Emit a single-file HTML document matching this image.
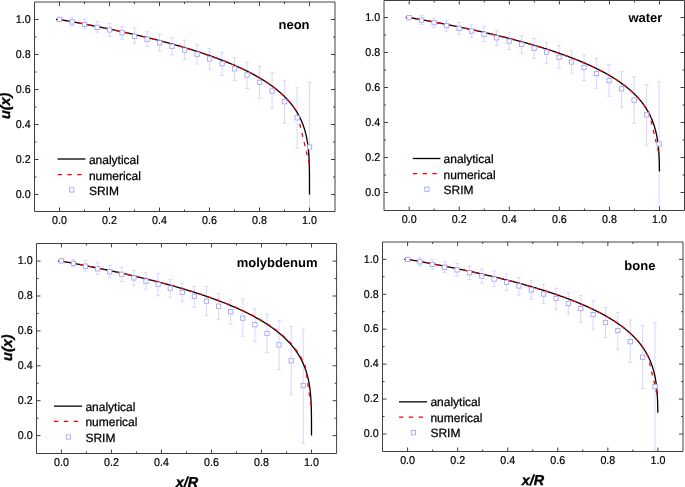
<!DOCTYPE html>
<html><head><meta charset="utf-8"><title>u(x) vs x/R</title>
<style>
html,body{margin:0;padding:0;background:#fff;}
body{width:685px;height:487px;overflow:hidden;}
svg{display:block;}
text{font-family:"Liberation Sans",Arial,sans-serif;fill:#000;text-rendering:geometricPrecision;}
.tl text{font-size:11.4px;stroke:#000;stroke-width:0.2px;}
.lg text{font-size:12px;stroke:#000;stroke-width:0.25px;}
.pl{font-size:13px;font-weight:bold;fill:#000;}
.al{font-size:14.4px;font-weight:bold;font-style:italic;fill:#000;stroke:#000;stroke-width:0.35px;}
</style></head>
<body>
<svg width="685" height="487" viewBox="0 0 685 487">
<rect width="685" height="487" fill="#fff"/>
<g>
<path d="M72.1 17.4V19.5M70.2 17.4H74M72.1 24.3V26.1M70.2 26.1H74M84.6 19.3V22M82.7 19.3H86.5M84.6 26.8V29M82.7 29H86.5M97.1 21.3V24.9M95.2 21.3H99M97.1 29.7V32.2M95.2 32.2H99M109.6 23.4V27.5M107.7 23.4H111.5M109.6 32.3V36.3M107.7 36.3H111.5M122.1 26.4V30.4M120.2 26.4H124M122.1 35.2V39.2M120.2 39.2H124M134.6 28.1V33.9M132.7 28.1H136.5M134.6 38.7V43.3M132.7 43.3H136.5M147.1 31.6V36.8M145.2 31.6H149M147.1 41.6V46.6M145.2 46.6H149M159.6 34.5V40.4M157.7 34.5H161.5M159.6 45.2V51.3M157.7 51.3H161.5M172.1 37.8V43.8M170.2 37.8H174M172.1 48.6V54.9M170.2 54.9H174M184.6 40.3V47.7M182.7 40.3H186.5M184.6 52.5V59.6M182.7 59.6H186.5M197.1 44.4V51.8M195.2 44.4H199M197.1 56.6V64.1M195.2 64.1H199M209.6 48.4V56.5M207.7 48.4H211.5M209.6 61.3V69.2M207.7 69.2H211.5M222.1 52.3V61.3M220.2 52.3H224M222.1 66.1V75.4M220.2 75.4H224M234.6 57.4V66.4M232.7 57.4H236.5M234.6 71.2V80.5M232.7 80.5H236.5M247.1 61.9V72.6M245.2 61.9H249M247.1 77.4V88.5M245.2 88.5H249M259.6 66.3V80M257.7 66.3H261.5M259.6 84.8V98.4M257.7 98.4H261.5M272.1 72.6V88.6M270.2 72.6H274M272.1 93.4V108.3M270.2 108.3H274M284.6 80.3V99.3M282.7 80.3H286.5M284.6 104.1V123.3M282.7 123.3H286.5M297.1 87.7V115.4M295.2 87.7H299M297.1 120.2V148.4M295.2 148.4H299M309.6 82.4V144.6M307.7 82.4H311.5M309.6 149.4V211M307.7 211H311.5" stroke="#d2d2ff" stroke-width="0.9" fill="none"/>
<path d="M56 19.5 L59.5 19.5 L61.37 19.83 L63.23 20.16 L65.08 20.49 L66.93 20.82 L68.76 21.16 L70.58 21.49 L72.4 21.82 L74.2 22.15 L76 22.48 L77.79 22.82 L79.56 23.15 L81.33 23.48 L83.09 23.82 L84.84 24.15 L86.58 24.48 L88.32 24.82 L90.04 25.15 L91.75 25.49 L93.46 25.82 L95.16 26.16 L96.84 26.49 L98.52 26.83 L100.19 27.16 L101.85 27.5 L103.51 27.83 L105.15 28.17 L106.78 28.51 L108.41 28.84 L110.03 29.18 L111.64 29.52 L113.24 29.85 L114.83 30.19 L116.41 30.53 L117.98 30.87 L119.55 31.2 L121.11 31.54 L122.66 31.88 L124.2 32.22 L125.73 32.56 L127.25 32.9 L128.76 33.24 L130.27 33.58 L131.77 33.92 L133.26 34.26 L134.74 34.6 L136.21 34.94 L137.68 35.28 L139.13 35.62 L140.58 35.96 L142.02 36.3 L143.45 36.65 L144.87 36.99 L146.29 37.33 L147.7 37.67 L149.1 38.02 L150.49 38.36 L151.87 38.7 L153.24 39.05 L154.61 39.39 L155.97 39.73 L157.32 40.08 L158.66 40.42 L160 40.77 L161.32 41.11 L162.64 41.46 L163.95 41.8 L165.26 42.15 L166.55 42.49 L167.84 42.84 L169.12 43.19 L170.39 43.53 L171.66 43.88 L172.91 44.23 L174.16 44.58 L175.41 44.92 L176.64 45.27 L177.87 45.62 L179.08 45.97 L180.3 46.32 L181.5 46.67 L182.7 47.02 L183.89 47.37 L185.07 47.72 L186.24 48.07 L187.41 48.42 L188.57 48.77 L189.72 49.12 L190.86 49.47 L192 49.82 L193.13 50.17 L194.25 50.52 L195.37 50.88 L196.47 51.23 L197.58 51.58 L198.67 51.94 L199.76 52.29 L200.84 52.64 L201.91 53 L202.97 53.35 L204.03 53.71 L205.08 54.06 L206.13 54.42 L207.16 54.77 L208.19 55.13 L209.22 55.48 L210.23 55.84 L211.24 56.2 L212.25 56.55 L213.24 56.91 L214.23 57.27 L215.21 57.63 L216.19 57.98 L217.16 58.34 L218.12 58.7 L219.07 59.06 L220.02 59.42 L220.96 59.78 L221.9 60.14 L222.83 60.5 L223.75 60.86 L224.67 61.22 L225.57 61.58 L226.48 61.95 L227.37 62.31 L228.26 62.67 L229.15 63.03 L230.02 63.39 L230.89 63.76 L231.76 64.12 L232.61 64.49 L233.46 64.85 L234.31 65.21 L235.15 65.58 L235.98 65.94 L236.81 66.31 L237.63 66.68 L238.44 67.04 L239.25 67.41 L240.05 67.78 L240.84 68.14 L241.63 68.51 L242.42 68.88 L243.19 69.25 L243.96 69.62 L244.73 69.98 L245.49 70.35 L246.24 70.72 L246.99 71.09 L247.73 71.46 L248.46 71.83 L249.19 72.21 L249.92 72.58 L250.64 72.95 L251.35 73.32 L252.05 73.69 L252.75 74.07 L253.45 74.44 L254.14 74.81 L254.82 75.19 L255.5 75.56 L256.17 75.94 L256.84 76.31 L257.5 76.69 L258.16 77.06 L258.81 77.44 L259.45 77.82 L260.09 78.19 L260.72 78.57 L261.35 78.95 L261.97 79.33 L262.59 79.71 L263.2 80.09 L263.81 80.47 L264.41 80.85 L265.01 81.23 L265.6 81.61 L266.18 81.99 L266.76 82.37 L267.34 82.75 L267.91 83.13 L268.47 83.52 L269.03 83.9 L269.58 84.28 L270.13 84.67 L270.68 85.05 L271.22 85.44 L271.75 85.82 L272.28 86.21 L272.8 86.6 L273.32 86.98 L273.84 87.37 L274.35 87.76 L274.85 88.15 L275.35 88.53 L275.85 88.92 L276.34 89.31 L276.82 89.7 L277.3 90.09 L277.78 90.48 L278.25 90.88 L278.72 91.27 L279.18 91.66 L279.64 92.05 L280.09 92.45 L280.54 92.84 L280.98 93.24 L281.42 93.63 L281.85 94.03 L282.28 94.42 L282.71 94.82 L283.13 95.21 L283.54 95.61 L283.96 96.01 L284.36 96.41 L284.77 96.81 L285.17 97.21 L285.56 97.61 L285.95 98.01 L286.34 98.41 L286.72 98.81 L287.1 99.21 L287.47 99.61 L287.84 100.02 L288.2 100.42 L288.56 100.83 L288.92 101.23 L289.27 101.64 L289.62 102.04 L289.97 102.45 L290.31 102.86 L290.65 103.26 L290.98 103.67 L291.31 104.08 L291.63 104.49 L291.95 104.9 L292.27 105.31 L292.58 105.72 L292.89 106.14 L293.2 106.55 L293.5 106.96 L293.8 107.38 L294.09 107.79 L294.38 108.21 L294.67 108.62 L294.95 109.04 L295.23 109.46 L295.51 109.87 L295.78 110.29 L296.05 110.71 L296.32 111.13 L296.58 111.55 L296.84 111.97 L297.09 112.39 L297.34 112.82 L297.59 113.24 L297.84 113.66 L298.08 114.09 L298.32 114.51 L298.55 114.94 L298.78 115.37 L299.01 115.8 L299.23 116.22 L299.46 116.65 L299.67 117.08 L299.89 117.51 L300.1 117.95 L300.31 118.38 L300.52 118.81 L300.72 119.24 L300.92 119.68 L301.11 120.11 L301.31 120.55 L301.5 120.99 L301.69 121.43 L301.87 121.87 L302.05 122.3 L302.23 122.75 L302.41 123.19 L302.58 123.63 L302.75 124.07 L302.92 124.52 L303.08 124.96 L303.24 125.41 L303.4 125.85 L303.56 126.3 L303.71 126.75 L303.86 127.2 L304.01 127.65 L304.16 128.1 L304.3 128.56 L304.44 129.01 L304.58 129.46 L304.71 129.92 L304.85 130.38 L304.98 130.84 L305.11 131.29 L305.23 131.75 L305.35 132.22 L305.48 132.68 L305.59 133.14 L305.71 133.61 L305.82 134.07 L305.93 134.54 L306.04 135.01 L306.15 135.47 L306.26 135.94 L306.36 136.42 L306.46 136.89 L306.56 137.36 L306.65 137.84 L306.75 138.32 L306.84 138.79 L306.93 139.27 L307.02 139.75 L307.1 140.23 L307.18 140.72 L307.27 141.2 L307.35 141.69 L307.42 142.18 L307.5 142.67 L307.57 143.16 L307.65 143.65 L307.72 144.14 L307.79 144.64 L307.85 145.13 L307.92 145.63 L307.98 146.13 L308.04 146.63 L308.1 147.14 L308.16 147.64 L308.22 148.15 L308.27 148.66 L308.33 149.17 L308.38 149.68 L308.43 150.2 L308.48 150.71 L308.52 151.23 L308.57 151.75 L308.61 152.27 L308.66 152.8 L308.7 153.32 L308.74 153.85 L308.78 154.38 L308.81 154.92 L308.85 155.45 L308.88 155.99 L308.92 156.53 L308.95 157.07 L308.98 157.62 L309.01 158.17 L309.04 158.72 L309.07 159.27 L309.09 159.83 L309.12 160.39 L309.14 160.95 L309.17 161.51 L309.19 162.08 L309.21 162.65 L309.23 163.23 L309.25 163.81 L309.27 164.39 L309.29 164.97 L309.3 165.56 L309.32 166.16 L309.33 166.75 L309.35 167.36 L309.36 167.96 L309.37 168.57 L309.38 169.19 L309.39 169.81 L309.4 170.43 L309.41 171.06 L309.42 171.7 L309.43 172.34 L309.44 172.99 L309.45 173.64 L309.45 174.3 L309.46 174.97 L309.46 175.64 L309.47 176.33 L309.47 177.02 L309.48 177.72 L309.48 178.43 L309.48 179.15 L309.49 179.88 L309.49 180.62 L309.49 181.38 L309.49 182.15 L309.49 182.93 L309.5 183.74 L309.5 184.56 L309.5 185.41 L309.5 186.28 L309.5 187.19 L309.5 188.13 L309.5 189.12 L309.5 190.17 L309.5 191.31 L309.5 192.61 L309.5 194.5" stroke="#000" stroke-width="1.3" fill="none" stroke-linejoin="round"/>
<path d="M59.5 19.5 L60.75 19.72 L62 19.94 L63.25 20.17 L64.5 20.39 L65.75 20.61 L67 20.84 L68.25 21.06 L69.5 21.29 L70.75 21.52 L72 21.75 L73.25 21.98 L74.5 22.21 L75.75 22.44 L77 22.67 L78.25 22.9 L79.5 23.14 L80.75 23.37 L82 23.61 L83.25 23.85 L84.5 24.09 L85.75 24.32 L87 24.56 L88.25 24.81 L89.5 25.05 L90.75 25.29 L92 25.53 L93.25 25.78 L94.5 26.03 L95.75 26.27 L97 26.52 L98.25 26.77 L99.5 27.02 L100.75 27.27 L102 27.53 L103.25 27.78 L104.5 28.04 L105.75 28.29 L107 28.55 L108.25 28.81 L109.5 29.07 L110.75 29.33 L112 29.59 L113.25 29.86 L114.5 30.12 L115.75 30.39 L117 30.65 L118.25 30.92 L119.5 31.19 L120.75 31.47 L122 31.74 L123.25 32.01 L124.5 32.29 L125.75 32.56 L127 32.84 L128.25 33.12 L129.5 33.4 L130.75 33.69 L132 33.97 L133.25 34.26 L134.5 34.54 L135.75 34.83 L137 35.12 L138.25 35.41 L139.5 35.71 L140.75 36 L142 36.3 L143.25 36.6 L144.5 36.9 L145.75 37.2 L147 37.5 L148.25 37.81 L149.5 38.11 L150.75 38.42 L152 38.73 L153.25 39.05 L154.5 39.36 L155.75 39.68 L157 40 L158.25 40.32 L159.5 40.64 L160.75 40.96 L162 41.29 L163.25 41.62 L164.5 41.95 L165.75 42.28 L167 42.61 L168.25 42.95 L169.5 43.29 L170.75 43.63 L172 43.97 L173.25 44.32 L174.5 44.67 L175.75 45.02 L177 45.37 L178.25 45.73 L179.5 46.09 L180.75 46.45 L182 46.81 L183.25 47.18 L184.5 47.55 L185.75 47.92 L187 48.29 L188.25 48.67 L189.5 49.05 L190.75 49.43 L192 49.82 L193.25 50.21 L194.5 50.6 L195.75 51 L197 51.4 L198.25 51.8 L199.5 52.21 L200.75 52.61 L202 53.03 L203.25 53.44 L204.5 53.86 L205.75 54.29 L207 54.72 L208.25 55.15 L209.5 55.58 L210.75 56.02 L212 56.47 L213.25 56.91 L214.5 57.37 L215.75 57.82 L217 58.29 L218.25 58.75 L219.5 59.22 L220.75 59.7 L222 60.18 L223.25 60.67 L224.5 61.16 L225.75 61.65 L227 62.16 L228.25 62.66 L229.5 63.18 L230.75 63.7 L232 64.22 L233.25 64.76 L234.5 65.3 L235.75 65.84 L237 66.4 L238.25 66.96 L239.5 67.52 L240.75 68.1 L242 68.68 L243.25 69.27 L244.5 69.87 L245.75 70.48 L247 71.1 L248.25 71.73 L249.5 72.36 L250.75 73.01 L252 73.66 L253.25 74.33 L254.5 75.01 L255.75 75.7 L257 76.4 L258.25 77.12 L259.5 77.85 L260.75 78.59 L262 79.34 L263.25 80.12 L264.5 80.9 L265.75 81.71 L267 82.53 L268.25 83.37 L269.5 84.23 L270.75 85.1 L272 86 L273.25 86.93 L274.5 87.87 L275.75 88.85 L277 89.85 L278.25 90.88 L279.5 91.94 L280.75 93.03 L282 94.16 L283.25 95.33 L284.5 96.54 L285.75 97.8 L287 99.11 L288.25 100.47 L289.5 101.9 L290.75 103.39 L292 104.96 L293.25 106.62 L294.5 108.37 L295.75 110.24 L297 112.24 L309.5 164.75" stroke="#ff0000" stroke-width="1.3" fill="none" stroke-dasharray="4 5.4"/>
<g fill="#fff" stroke="#a0a0ff" stroke-width="0.85"><rect x="57.45" y="17.15" width="4.3" height="4.3"/><rect x="69.95" y="19.75" width="4.3" height="4.3"/><rect x="82.45" y="22.25" width="4.3" height="4.3"/><rect x="94.95" y="25.15" width="4.3" height="4.3"/><rect x="107.45" y="27.75" width="4.3" height="4.3"/><rect x="119.95" y="30.65" width="4.3" height="4.3"/><rect x="132.45" y="34.15" width="4.3" height="4.3"/><rect x="144.95" y="37.05" width="4.3" height="4.3"/><rect x="157.45" y="40.65" width="4.3" height="4.3"/><rect x="169.95" y="44.05" width="4.3" height="4.3"/><rect x="182.45" y="47.95" width="4.3" height="4.3"/><rect x="194.95" y="52.05" width="4.3" height="4.3"/><rect x="207.45" y="56.75" width="4.3" height="4.3"/><rect x="219.95" y="61.55" width="4.3" height="4.3"/><rect x="232.45" y="66.65" width="4.3" height="4.3"/><rect x="244.95" y="72.85" width="4.3" height="4.3"/><rect x="257.45" y="80.25" width="4.3" height="4.3"/><rect x="269.95" y="88.85" width="4.3" height="4.3"/><rect x="282.45" y="99.55" width="4.3" height="4.3"/><rect x="294.95" y="115.65" width="4.3" height="4.3"/><rect x="307.45" y="144.85" width="4.3" height="4.3"/></g>
<rect x="34.5" y="2" width="300.5" height="209.5" fill="none" stroke="#404040" stroke-width="1" stroke-linejoin="round"/>
<path d="M59.5 211.5v-4M59.5 2v4M34.5 194.5h4M335 194.5h-4M84.5 211.5v-2M84.5 2v2M34.5 177h2M335 177h-2M109.5 211.5v-4M109.5 2v4M34.5 159.5h4M335 159.5h-4M134.5 211.5v-2M134.5 2v2M34.5 142h2M335 142h-2M159.5 211.5v-4M159.5 2v4M34.5 124.5h4M335 124.5h-4M184.5 211.5v-2M184.5 2v2M34.5 107h2M335 107h-2M209.5 211.5v-4M209.5 2v4M34.5 89.5h4M335 89.5h-4M234.5 211.5v-2M234.5 2v2M34.5 72h2M335 72h-2M259.5 211.5v-4M259.5 2v4M34.5 54.5h4M335 54.5h-4M284.5 211.5v-2M284.5 2v2M34.5 37h2M335 37h-2M309.5 211.5v-4M309.5 2v4M34.5 19.5h4M335 19.5h-4" stroke="#404040" stroke-width="1" fill="none"/>
<g class="tl"><text transform="translate(59.5 224.4) scale(0.94 1)" text-anchor="middle">0.0</text><text transform="translate(30.6 197.8) scale(0.94 1)" text-anchor="end">0.0</text><text transform="translate(109.5 224.4) scale(0.94 1)" text-anchor="middle">0.2</text><text transform="translate(30.6 162.8) scale(0.94 1)" text-anchor="end">0.2</text><text transform="translate(159.5 224.4) scale(0.94 1)" text-anchor="middle">0.4</text><text transform="translate(30.6 127.8) scale(0.94 1)" text-anchor="end">0.4</text><text transform="translate(209.5 224.4) scale(0.94 1)" text-anchor="middle">0.6</text><text transform="translate(30.6 92.8) scale(0.94 1)" text-anchor="end">0.6</text><text transform="translate(259.5 224.4) scale(0.94 1)" text-anchor="middle">0.8</text><text transform="translate(30.6 57.8) scale(0.94 1)" text-anchor="end">0.8</text><text transform="translate(309.5 224.4) scale(0.94 1)" text-anchor="middle">1.0</text><text transform="translate(30.6 22.8) scale(0.94 1)" text-anchor="end">1.0</text></g>
<path d="M57.6 159H85.5" stroke="#000" stroke-width="1.3"/>
<path d="M57.6 174.6H81.8" stroke="#ff0000" stroke-width="1.3" stroke-dasharray="4.4 5.4"/>
<rect x="69.65" y="187.75" width="4.3" height="4.3" fill="#fff" stroke="#a0a0ff" stroke-width="0.85"/>
<g class="lg"><text x="88.9" y="164.2">analytical</text><text x="88.9" y="179.6">numerical</text><text x="88.9" y="194.5">SRIM</text></g>
<text class="pl" x="294" y="28.8" text-anchor="middle">neon</text>
<text class="al" transform="translate(10.2 105.9) rotate(-90)" text-anchor="middle">u(x)</text>
</g>
<g>
<path d="M421.6 15.5V17.7M419.7 15.5H423.5M421.6 22.5V24.4M419.7 24.4H423.5M434.1 18.1V20.3M432.2 18.1H436M434.1 25.1V27.6M432.2 27.6H436M446.6 20.5V23.2M444.7 20.5H448.5M446.6 28V31.3M444.7 31.3H448.5M459.1 22.5V26M457.2 22.5H461M459.1 30.8V34.3M457.2 34.3H461M471.6 24.4V28.6M469.7 24.4H473.5M471.6 33.4V37.6M469.7 37.6H473.5M484.1 26.4V31.8M482.2 26.4H486M484.1 36.6V41.5M482.2 41.5H486M496.6 30.5V35.4M494.7 30.5H498.5M496.6 40.2V45.3M494.7 45.3H498.5M509.1 32.7V38.8M507.2 32.7H511M509.1 43.6V49.5M507.2 49.5H511M521.6 35.5V42M519.7 35.5H523.5M521.6 46.8V53.3M519.7 53.3H523.5M534.1 38.5V45.8M532.2 38.5H536M534.1 50.6V58.4M532.2 58.4H536M546.6 42.3V49.7M544.7 42.3H548.5M546.6 54.5V63.4M544.7 63.4H548.5M559.1 45.5V54.8M557.2 45.5H561M559.1 59.6V68.2M557.2 68.2H561M571.6 50.4V59.6M569.7 50.4H573.5M571.6 64.4V73.3M569.7 73.3H573.5M584.1 54.7V65M582.2 54.7H586M584.1 69.8V80.5M582.2 80.5H586M596.6 58.3V71.1M594.7 58.3H598.5M596.6 75.9V88.3M594.7 88.3H598.5M609.1 64.4V78.2M607.2 64.4H611M609.1 83V96.3M607.2 96.3H611M621.6 71.4V86.4M619.7 71.4H623.5M621.6 91.2V107.2M619.7 107.2H623.5M634.1 76.6V97.8M632.2 76.6H636M634.1 102.6V123.4M632.2 123.4H636M646.6 84.5V112.4M644.7 84.5H648.5M646.6 117.2V145.2M644.7 145.2H648.5M659.1 81.9V141.6M657.2 81.9H661M659.1 146.4V206.6M657.2 206.6H661" stroke="#d2d2ff" stroke-width="0.9" fill="none"/>
<path d="M405.7 17.5 L409.2 17.5 L411.07 17.83 L412.93 18.16 L414.79 18.49 L416.63 18.81 L418.47 19.14 L420.29 19.47 L422.11 19.8 L423.92 20.13 L425.71 20.46 L427.5 20.79 L429.28 21.12 L431.05 21.45 L432.81 21.78 L434.57 22.11 L436.31 22.44 L438.04 22.78 L439.77 23.11 L441.49 23.44 L443.19 23.77 L444.89 24.1 L446.58 24.44 L448.26 24.77 L449.93 25.1 L451.6 25.43 L453.25 25.77 L454.9 26.1 L456.53 26.43 L458.16 26.77 L459.78 27.1 L461.39 27.44 L462.99 27.77 L464.58 28.11 L466.17 28.44 L467.74 28.78 L469.31 29.11 L470.87 29.45 L472.42 29.78 L473.96 30.12 L475.49 30.46 L477.02 30.79 L478.53 31.13 L480.04 31.47 L481.54 31.8 L483.03 32.14 L484.51 32.48 L485.99 32.82 L487.45 33.16 L488.91 33.5 L490.36 33.83 L491.8 34.17 L493.23 34.51 L494.66 34.85 L496.08 35.19 L497.48 35.53 L498.88 35.87 L500.28 36.21 L501.66 36.55 L503.04 36.89 L504.4 37.24 L505.76 37.58 L507.12 37.92 L508.46 38.26 L509.8 38.6 L511.13 38.95 L512.45 39.29 L513.76 39.63 L515.06 39.97 L516.36 40.32 L517.65 40.66 L518.93 41.01 L520.2 41.35 L521.47 41.69 L522.73 42.04 L523.98 42.38 L525.22 42.73 L526.46 43.08 L527.68 43.42 L528.9 43.77 L530.12 44.11 L531.32 44.46 L532.52 44.81 L533.71 45.15 L534.89 45.5 L536.07 45.85 L537.23 46.2 L538.39 46.55 L539.55 46.9 L540.69 47.24 L541.83 47.59 L542.96 47.94 L544.09 48.29 L545.2 48.64 L546.31 48.99 L547.41 49.34 L548.51 49.69 L549.6 50.05 L550.68 50.4 L551.75 50.75 L552.82 51.1 L553.87 51.45 L554.93 51.81 L555.97 52.16 L557.01 52.51 L558.04 52.86 L559.07 53.22 L560.08 53.57 L561.09 53.93 L562.1 54.28 L563.09 54.64 L564.08 54.99 L565.07 55.35 L566.04 55.7 L567.01 56.06 L567.98 56.42 L568.93 56.77 L569.88 57.13 L570.82 57.49 L571.76 57.85 L572.69 58.2 L573.61 58.56 L574.53 58.92 L575.44 59.28 L576.34 59.64 L577.24 60 L578.13 60.36 L579.01 60.72 L579.89 61.08 L580.76 61.44 L581.63 61.8 L582.49 62.16 L583.34 62.53 L584.18 62.89 L585.02 63.25 L585.86 63.61 L586.68 63.98 L587.5 64.34 L588.32 64.7 L589.13 65.07 L589.93 65.43 L590.72 65.8 L591.51 66.16 L592.3 66.53 L593.08 66.9 L593.85 67.26 L594.61 67.63 L595.37 68 L596.13 68.36 L596.87 68.73 L597.62 69.1 L598.35 69.47 L599.08 69.84 L599.81 70.21 L600.53 70.58 L601.24 70.95 L601.95 71.32 L602.65 71.69 L603.34 72.06 L604.03 72.43 L604.72 72.8 L605.39 73.17 L606.07 73.55 L606.73 73.92 L607.4 74.29 L608.05 74.67 L608.7 75.04 L609.35 75.42 L609.99 75.79 L610.62 76.17 L611.25 76.54 L611.87 76.92 L612.49 77.3 L613.1 77.67 L613.71 78.05 L614.31 78.43 L614.91 78.81 L615.5 79.19 L616.09 79.56 L616.67 79.94 L617.24 80.32 L617.81 80.7 L618.38 81.09 L618.94 81.47 L619.49 81.85 L620.04 82.23 L620.59 82.61 L621.13 83 L621.66 83.38 L622.19 83.76 L622.72 84.15 L623.24 84.53 L623.75 84.92 L624.26 85.3 L624.77 85.69 L625.27 86.08 L625.76 86.46 L626.25 86.85 L626.74 87.24 L627.22 87.63 L627.7 88.02 L628.17 88.41 L628.63 88.8 L629.1 89.19 L629.55 89.58 L630.01 89.97 L630.45 90.36 L630.9 90.75 L631.34 91.15 L631.77 91.54 L632.2 91.93 L632.63 92.33 L633.05 92.72 L633.47 93.12 L633.88 93.51 L634.29 93.91 L634.69 94.31 L635.09 94.71 L635.48 95.1 L635.88 95.5 L636.26 95.9 L636.64 96.3 L637.02 96.7 L637.4 97.1 L637.77 97.5 L638.13 97.9 L638.49 98.31 L638.85 98.71 L639.2 99.11 L639.55 99.52 L639.9 99.92 L640.24 100.33 L640.57 100.73 L640.91 101.14 L641.24 101.55 L641.56 101.95 L641.88 102.36 L642.2 102.77 L642.51 103.18 L642.82 103.59 L643.13 104 L643.43 104.41 L643.73 104.82 L644.03 105.24 L644.32 105.65 L644.6 106.06 L644.89 106.48 L645.17 106.89 L645.44 107.31 L645.72 107.73 L645.99 108.14 L646.25 108.56 L646.51 108.98 L646.77 109.4 L647.03 109.82 L647.28 110.24 L647.53 110.66 L647.77 111.08 L648.01 111.5 L648.25 111.93 L648.49 112.35 L648.72 112.78 L648.95 113.2 L649.17 113.63 L649.39 114.05 L649.61 114.48 L649.83 114.91 L650.04 115.34 L650.25 115.77 L650.45 116.2 L650.66 116.63 L650.86 117.06 L651.05 117.5 L651.25 117.93 L651.44 118.36 L651.63 118.8 L651.81 119.24 L651.99 119.67 L652.17 120.11 L652.35 120.55 L652.52 120.99 L652.69 121.43 L652.86 121.87 L653.02 122.31 L653.19 122.76 L653.34 123.2 L653.5 123.64 L653.66 124.09 L653.81 124.54 L653.95 124.98 L654.1 125.43 L654.24 125.88 L654.38 126.33 L654.52 126.78 L654.66 127.24 L654.79 127.69 L654.92 128.14 L655.05 128.6 L655.18 129.05 L655.3 129.51 L655.42 129.97 L655.54 130.43 L655.65 130.89 L655.77 131.35 L655.88 131.81 L655.99 132.27 L656.1 132.74 L656.2 133.2 L656.3 133.67 L656.4 134.14 L656.5 134.6 L656.6 135.07 L656.69 135.54 L656.78 136.02 L656.87 136.49 L656.96 136.96 L657.05 137.44 L657.13 137.91 L657.21 138.39 L657.29 138.87 L657.37 139.35 L657.45 139.83 L657.52 140.31 L657.59 140.79 L657.66 141.28 L657.73 141.76 L657.8 142.25 L657.86 142.74 L657.93 143.23 L657.99 143.72 L658.05 144.21 L658.11 144.7 L658.16 145.19 L658.22 145.69 L658.27 146.19 L658.32 146.68 L658.37 147.18 L658.42 147.68 L658.47 148.18 L658.52 148.68 L658.56 149.18 L658.6 149.69 L658.65 150.19 L658.69 150.7 L658.72 151.21 L658.76 151.71 L658.8 152.22 L658.83 152.73 L658.87 153.24 L658.9 153.75 L658.93 154.26 L658.96 154.77 L658.99 155.28 L659.02 155.8 L659.04 156.31 L659.07 156.82 L659.09 157.33 L659.12 157.84 L659.14 158.35 L659.16 158.86 L659.18 159.37 L659.2 159.88 L659.22 160.39 L659.23 160.89 L659.25 161.39 L659.27 161.89 L659.28 162.38 L659.29 162.87 L659.31 163.36 L659.32 163.84 L659.33 164.32 L659.34 164.78 L659.35 165.24 L659.36 165.7 L659.37 166.14 L659.38 166.57 L659.39 166.99 L659.39 167.4 L659.4 167.79 L659.41 168.17 L659.41 168.53 L659.42 168.87 L659.42 169.2 L659.43 169.5 L659.43 169.78 L659.43 170.04 L659.43 170.28 L659.44 170.49 L659.44 170.68 L659.44 170.85 L659.44 170.99 L659.44 171.12 L659.45 171.22 L659.45 171.3 L659.45 171.37 L659.45 171.42 L659.45 171.45 L659.45 171.47 L659.45 171.49 L659.45 171.5 L659.45 171.5 L659.45 171.5" stroke="#000" stroke-width="1.3" fill="none" stroke-linejoin="round"/>
<path d="M409.2 17.5 L410.45 17.72 L411.7 17.94 L412.95 18.16 L414.21 18.38 L415.46 18.6 L416.71 18.83 L417.96 19.05 L419.21 19.28 L420.46 19.5 L421.71 19.73 L422.97 19.96 L424.22 20.19 L425.47 20.42 L426.72 20.65 L427.97 20.88 L429.22 21.11 L430.48 21.34 L431.73 21.58 L432.98 21.81 L434.23 22.05 L435.48 22.29 L436.73 22.52 L437.98 22.76 L439.24 23 L440.49 23.25 L441.74 23.49 L442.99 23.73 L444.24 23.98 L445.49 24.22 L446.75 24.47 L448 24.72 L449.25 24.96 L450.5 25.21 L451.75 25.46 L453 25.72 L454.25 25.97 L455.51 26.22 L456.76 26.48 L458.01 26.74 L459.26 27 L460.51 27.25 L461.76 27.51 L463.01 27.78 L464.27 28.04 L465.52 28.3 L466.77 28.57 L468.02 28.84 L469.27 29.1 L470.52 29.37 L471.77 29.64 L473.03 29.92 L474.28 30.19 L475.53 30.46 L476.78 30.74 L478.03 31.02 L479.28 31.3 L480.54 31.58 L481.79 31.86 L483.04 32.14 L484.29 32.43 L485.54 32.72 L486.79 33 L488.04 33.29 L489.3 33.58 L490.55 33.88 L491.8 34.17 L493.05 34.47 L494.3 34.77 L495.55 35.07 L496.81 35.37 L498.06 35.67 L499.31 35.98 L500.56 36.28 L501.81 36.59 L503.06 36.9 L504.31 37.21 L505.57 37.53 L506.82 37.84 L508.07 38.16 L509.32 38.48 L510.57 38.8 L511.82 39.13 L513.07 39.45 L514.33 39.78 L515.58 40.11 L516.83 40.44 L518.08 40.78 L519.33 41.11 L520.58 41.45 L521.84 41.79 L523.09 42.14 L524.34 42.48 L525.59 42.83 L526.84 43.18 L528.09 43.54 L529.34 43.89 L530.6 44.25 L531.85 44.61 L533.1 44.98 L534.35 45.34 L535.6 45.71 L536.85 46.08 L538.1 46.46 L539.36 46.84 L540.61 47.22 L541.86 47.6 L543.11 47.99 L544.36 48.38 L545.61 48.77 L546.87 49.17 L548.12 49.57 L549.37 49.97 L550.62 50.38 L551.87 50.79 L553.12 51.2 L554.37 51.62 L555.63 52.04 L556.88 52.47 L558.13 52.89 L559.38 53.33 L560.63 53.76 L561.88 54.21 L563.13 54.65 L564.39 55.1 L565.64 55.56 L566.89 56.01 L568.14 56.48 L569.39 56.95 L570.64 57.42 L571.89 57.9 L573.15 58.38 L574.4 58.87 L575.65 59.36 L576.9 59.86 L578.15 60.37 L579.4 60.88 L580.66 61.4 L581.91 61.92 L583.16 62.45 L584.41 62.99 L585.66 63.53 L586.91 64.08 L588.16 64.64 L589.42 65.2 L590.67 65.77 L591.92 66.35 L593.17 66.94 L594.42 67.54 L595.67 68.14 L596.92 68.76 L598.18 69.38 L599.43 70.01 L600.68 70.66 L601.93 71.31 L603.18 71.97 L604.43 72.65 L605.69 73.34 L606.94 74.03 L608.19 74.75 L609.44 75.47 L610.69 76.21 L611.94 76.96 L613.19 77.73 L614.45 78.51 L615.7 79.31 L616.95 80.13 L618.2 80.97 L619.45 81.82 L620.7 82.7 L621.95 83.59 L623.21 84.51 L624.46 85.45 L625.71 86.42 L626.96 87.42 L628.21 88.44 L629.46 89.5 L630.72 90.59 L631.97 91.72 L633.22 92.88 L634.47 94.09 L635.72 95.34 L636.97 96.65 L638.22 98.01 L639.48 99.43 L640.73 100.92 L641.98 102.49 L643.23 104.14 L644.48 105.89 L645.73 107.75 L646.99 109.75 L648.24 111.9 L649.49 114.24 L659.5 155.93" stroke="#ff0000" stroke-width="1.3" fill="none" stroke-dasharray="4 5.4"/>
<g fill="#fff" stroke="#a0a0ff" stroke-width="0.85"><rect x="406.95" y="15.55" width="4.3" height="4.3"/><rect x="419.45" y="17.95" width="4.3" height="4.3"/><rect x="431.95" y="20.55" width="4.3" height="4.3"/><rect x="444.45" y="23.45" width="4.3" height="4.3"/><rect x="456.95" y="26.25" width="4.3" height="4.3"/><rect x="469.45" y="28.85" width="4.3" height="4.3"/><rect x="481.95" y="32.05" width="4.3" height="4.3"/><rect x="494.45" y="35.65" width="4.3" height="4.3"/><rect x="506.95" y="39.05" width="4.3" height="4.3"/><rect x="519.45" y="42.25" width="4.3" height="4.3"/><rect x="531.95" y="46.05" width="4.3" height="4.3"/><rect x="544.45" y="49.95" width="4.3" height="4.3"/><rect x="556.95" y="55.05" width="4.3" height="4.3"/><rect x="569.45" y="59.85" width="4.3" height="4.3"/><rect x="581.95" y="65.25" width="4.3" height="4.3"/><rect x="594.45" y="71.35" width="4.3" height="4.3"/><rect x="606.95" y="78.45" width="4.3" height="4.3"/><rect x="619.45" y="86.65" width="4.3" height="4.3"/><rect x="631.95" y="98.05" width="4.3" height="4.3"/><rect x="644.45" y="112.65" width="4.3" height="4.3"/><rect x="656.95" y="141.85" width="4.3" height="4.3"/></g>
<rect x="384" y="0.5" width="300.5" height="210" fill="none" stroke="#404040" stroke-width="1" stroke-linejoin="round"/>
<path d="M409.2 210.5v-4M409.2 0.5v4M384 192.5h4M684.5 192.5h-4M434.23 210.5v-2M434.23 0.5v2M384 175h2M684.5 175h-2M459.26 210.5v-4M459.26 0.5v4M384 157.5h4M684.5 157.5h-4M484.29 210.5v-2M484.29 0.5v2M384 140h2M684.5 140h-2M509.32 210.5v-4M509.32 0.5v4M384 122.5h4M684.5 122.5h-4M534.35 210.5v-2M534.35 0.5v2M384 105h2M684.5 105h-2M559.38 210.5v-4M559.38 0.5v4M384 87.5h4M684.5 87.5h-4M584.41 210.5v-2M584.41 0.5v2M384 70h2M684.5 70h-2M609.44 210.5v-4M609.44 0.5v4M384 52.5h4M684.5 52.5h-4M634.47 210.5v-2M634.47 0.5v2M384 35h2M684.5 35h-2M659.5 210.5v-4M659.5 0.5v4M384 17.5h4M684.5 17.5h-4" stroke="#404040" stroke-width="1" fill="none"/>
<g class="tl"><text transform="translate(409.2 222.8) scale(0.94 1)" text-anchor="middle">0.0</text><text transform="translate(380.1 195.8) scale(0.94 1)" text-anchor="end">0.0</text><text transform="translate(459.26 222.8) scale(0.94 1)" text-anchor="middle">0.2</text><text transform="translate(380.1 160.8) scale(0.94 1)" text-anchor="end">0.2</text><text transform="translate(509.32 222.8) scale(0.94 1)" text-anchor="middle">0.4</text><text transform="translate(380.1 125.8) scale(0.94 1)" text-anchor="end">0.4</text><text transform="translate(559.38 222.8) scale(0.94 1)" text-anchor="middle">0.6</text><text transform="translate(380.1 90.8) scale(0.94 1)" text-anchor="end">0.6</text><text transform="translate(609.44 222.8) scale(0.94 1)" text-anchor="middle">0.8</text><text transform="translate(380.1 55.8) scale(0.94 1)" text-anchor="end">0.8</text><text transform="translate(659.5 222.8) scale(0.94 1)" text-anchor="middle">1.0</text><text transform="translate(380.1 20.8) scale(0.94 1)" text-anchor="end">1.0</text></g>
<path d="M412.8 158.5H440.4" stroke="#000" stroke-width="1.3"/>
<path d="M412.8 173.7H437" stroke="#ff0000" stroke-width="1.3" stroke-dasharray="4.4 5.4"/>
<rect x="424.75" y="187.05" width="4.3" height="4.3" fill="#fff" stroke="#a0a0ff" stroke-width="0.85"/>
<g class="lg"><text x="443.6" y="163.1">analytical</text><text x="443.6" y="178.6">numerical</text><text x="443.6" y="193.8">SRIM</text></g>
<text class="pl" x="645.4" y="21.7" text-anchor="middle">water</text>
</g>
<g>
<path d="M73.4 259.5V261M71.5 259.5H75.3M73.4 265.8V267.1M71.5 267.1H75.3M85.5 260.5V263.8M83.6 260.5H87.4M85.5 268.6V271M83.6 271H87.4M97.6 262.7V266.4M95.7 262.7H99.5M97.6 271.2V274.3M95.7 274.3H99.5M109.7 265.5V269.3M107.8 265.5H111.6M109.7 274.1V277.9M107.8 277.9H111.6M121.8 267.3V271.9M119.9 267.3H123.7M121.8 276.7V281.5M119.9 281.5H123.7M133.9 270.4V275.5M132 270.4H135.8M133.9 280.3V285.2M132 285.2H135.8M146 272.3V278.7M144.1 272.3H147.9M146 283.5V289.1M144.1 289.1H147.9M158.1 273.5V282M156.2 273.5H160M158.1 286.8V295.7M156.2 295.7H160M170.2 279.6V285.7M168.3 279.6H172.1M170.2 290.5V297.1M168.3 297.1H172.1M182.3 283.2V289.9M180.4 283.2H184.2M182.3 294.7V301.2M180.4 301.2H184.2M194.4 286.5V294M192.5 286.5H196.3M194.4 298.8V307.3M192.5 307.3H196.3M206.5 286.5V298.7M204.6 286.5H208.4M206.5 303.5V315.7M204.6 315.7H208.4M218.6 293.5V303.8M216.7 293.5H220.5M218.6 308.6V319.3M216.7 319.3H220.5M230.7 299.6V309.3M228.8 299.6H232.6M230.7 314.1V324.1M228.8 324.1H232.6M242.8 299.2V315.7M240.9 299.2H244.7M242.8 320.5V336.2M240.9 336.2H244.7M254.9 308.5V322.3M253 308.5H256.8M254.9 327.1V341.4M253 341.4H256.8M267 314.4V331M265.1 314.4H268.9M267 335.8V352.5M265.1 352.5H268.9M279.1 320.5V342.5M277.2 320.5H281M279.1 347.3V369.5M277.2 369.5H281M291.2 326.4V358.4M289.3 326.4H293.1M291.2 363.2V395M289.3 395H293.1M303.3 329.2V383.2M301.4 329.2H305.2M303.3 388V443.4M301.4 443.4H305.2" stroke="#d2d2ff" stroke-width="0.9" fill="none"/>
<path d="M57.9 261.1 L61.4 261.1 L63.27 261.44 L65.13 261.78 L66.99 262.12 L68.83 262.46 L70.66 262.8 L72.49 263.15 L74.3 263.49 L76.11 263.83 L77.9 264.17 L79.69 264.51 L81.47 264.85 L83.24 265.2 L85 265.54 L86.75 265.88 L88.49 266.23 L90.23 266.57 L91.95 266.91 L93.67 267.26 L95.37 267.6 L97.07 267.94 L98.76 268.29 L100.44 268.63 L102.11 268.98 L103.77 269.32 L105.42 269.67 L107.07 270.01 L108.7 270.36 L110.33 270.7 L111.95 271.05 L113.56 271.4 L115.16 271.74 L116.75 272.09 L118.33 272.43 L119.91 272.78 L121.47 273.13 L123.03 273.48 L124.58 273.82 L126.12 274.17 L127.65 274.52 L129.18 274.87 L130.69 275.22 L132.2 275.56 L133.7 275.91 L135.19 276.26 L136.67 276.61 L138.14 276.96 L139.61 277.31 L141.06 277.66 L142.51 278.01 L143.95 278.36 L145.38 278.71 L146.81 279.06 L148.22 279.41 L149.63 279.76 L151.03 280.12 L152.42 280.47 L153.81 280.82 L155.18 281.17 L156.55 281.52 L157.91 281.88 L159.26 282.23 L160.6 282.58 L161.94 282.93 L163.26 283.29 L164.58 283.64 L165.9 284 L167.2 284.35 L168.5 284.7 L169.78 285.06 L171.06 285.41 L172.34 285.77 L173.6 286.12 L174.86 286.48 L176.11 286.84 L177.35 287.19 L178.59 287.55 L179.81 287.9 L181.03 288.26 L182.24 288.62 L183.45 288.98 L184.65 289.33 L185.83 289.69 L187.02 290.05 L188.19 290.41 L189.36 290.77 L190.52 291.12 L191.67 291.48 L192.81 291.84 L193.95 292.2 L195.08 292.56 L196.21 292.92 L197.32 293.28 L198.43 293.64 L199.53 294 L200.63 294.36 L201.71 294.73 L202.79 295.09 L203.86 295.45 L204.93 295.81 L205.99 296.17 L207.04 296.54 L208.09 296.9 L209.12 297.26 L210.15 297.63 L211.18 297.99 L212.19 298.35 L213.2 298.72 L214.21 299.08 L215.2 299.45 L216.19 299.81 L217.17 300.18 L218.15 300.54 L219.12 300.91 L220.08 301.28 L221.04 301.64 L221.99 302.01 L222.93 302.38 L223.86 302.74 L224.79 303.11 L225.72 303.48 L226.63 303.85 L227.54 304.22 L228.44 304.58 L229.34 304.95 L230.23 305.32 L231.11 305.69 L231.99 306.06 L232.86 306.43 L233.72 306.8 L234.58 307.17 L235.43 307.55 L236.28 307.92 L237.12 308.29 L237.95 308.66 L238.78 309.03 L239.6 309.41 L240.41 309.78 L241.22 310.15 L242.02 310.53 L242.82 310.9 L243.61 311.27 L244.39 311.65 L245.17 312.02 L245.94 312.4 L246.7 312.77 L247.46 313.15 L248.22 313.53 L248.96 313.9 L249.7 314.28 L250.44 314.66 L251.17 315.03 L251.89 315.41 L252.61 315.79 L253.32 316.17 L254.03 316.55 L254.73 316.93 L255.43 317.31 L256.12 317.69 L256.8 318.07 L257.48 318.45 L258.15 318.83 L258.82 319.21 L259.48 319.59 L260.13 319.97 L260.78 320.36 L261.43 320.74 L262.07 321.12 L262.7 321.5 L263.33 321.89 L263.95 322.27 L264.57 322.66 L265.18 323.04 L265.79 323.43 L266.39 323.81 L266.99 324.2 L267.58 324.58 L268.16 324.97 L268.74 325.36 L269.32 325.75 L269.89 326.13 L270.45 326.52 L271.01 326.91 L271.57 327.3 L272.12 327.69 L272.66 328.08 L273.2 328.47 L273.74 328.86 L274.27 329.25 L274.79 329.64 L275.31 330.04 L275.82 330.43 L276.33 330.82 L276.84 331.21 L277.34 331.61 L277.83 332 L278.32 332.4 L278.81 332.79 L279.29 333.19 L279.77 333.58 L280.24 333.98 L280.7 334.37 L281.17 334.77 L281.62 335.17 L282.08 335.57 L282.52 335.96 L282.97 336.36 L283.41 336.76 L283.84 337.16 L284.27 337.56 L284.7 337.96 L285.12 338.36 L285.53 338.77 L285.95 339.17 L286.35 339.57 L286.76 339.97 L287.16 340.38 L287.55 340.78 L287.94 341.18 L288.33 341.59 L288.71 341.99 L289.09 342.4 L289.46 342.81 L289.83 343.21 L290.2 343.62 L290.56 344.03 L290.91 344.44 L291.27 344.85 L291.62 345.26 L291.96 345.67 L292.3 346.08 L292.64 346.49 L292.97 346.9 L293.3 347.31 L293.62 347.72 L293.95 348.14 L294.26 348.55 L294.58 348.96 L294.89 349.38 L295.19 349.79 L295.49 350.21 L295.79 350.63 L296.09 351.04 L296.38 351.46 L296.66 351.88 L296.95 352.3 L297.23 352.72 L297.5 353.14 L297.78 353.56 L298.05 353.98 L298.31 354.4 L298.57 354.83 L298.83 355.25 L299.09 355.67 L299.34 356.1 L299.59 356.52 L299.83 356.95 L300.07 357.37 L300.31 357.8 L300.55 358.23 L300.78 358.66 L301.01 359.09 L301.23 359.52 L301.45 359.95 L301.67 360.38 L301.89 360.81 L302.1 361.24 L302.31 361.67 L302.51 362.11 L302.71 362.54 L302.91 362.98 L303.11 363.41 L303.3 363.85 L303.5 364.29 L303.68 364.73 L303.87 365.17 L304.05 365.61 L304.23 366.05 L304.4 366.49 L304.58 366.93 L304.75 367.37 L304.91 367.82 L305.08 368.26 L305.24 368.71 L305.4 369.15 L305.56 369.6 L305.71 370.05 L305.86 370.5 L306.01 370.95 L306.16 371.4 L306.3 371.85 L306.44 372.3 L306.58 372.76 L306.71 373.21 L306.85 373.67 L306.98 374.12 L307.1 374.58 L307.23 375.04 L307.35 375.5 L307.47 375.96 L307.59 376.42 L307.71 376.88 L307.82 377.34 L307.93 377.81 L308.04 378.27 L308.15 378.74 L308.25 379.21 L308.36 379.68 L308.46 380.14 L308.56 380.62 L308.65 381.09 L308.75 381.56 L308.84 382.03 L308.93 382.51 L309.01 382.99 L309.1 383.46 L309.18 383.94 L309.27 384.42 L309.35 384.91 L309.42 385.39 L309.5 385.87 L309.57 386.36 L309.65 386.84 L309.72 387.33 L309.78 387.82 L309.85 388.31 L309.92 388.81 L309.98 389.3 L310.04 389.8 L310.1 390.29 L310.16 390.79 L310.22 391.29 L310.27 391.79 L310.32 392.3 L310.38 392.8 L310.43 393.31 L310.48 393.82 L310.52 394.33 L310.57 394.84 L310.61 395.35 L310.66 395.87 L310.7 396.38 L310.74 396.9 L310.78 397.43 L310.81 397.95 L310.85 398.47 L310.88 399 L310.92 399.53 L310.95 400.06 L310.98 400.6 L311.01 401.13 L311.04 401.67 L311.07 402.21 L311.09 402.76 L311.12 403.3 L311.14 403.85 L311.17 404.41 L311.19 404.96 L311.21 405.52 L311.23 406.08 L311.25 406.64 L311.27 407.21 L311.29 407.78 L311.3 408.35 L311.32 408.92 L311.33 409.5 L311.35 410.09 L311.36 410.68 L311.37 411.27 L311.38 411.86 L311.39 412.46 L311.4 413.06 L311.41 413.67 L311.42 414.29 L311.43 414.9 L311.44 415.53 L311.45 416.16 L311.45 416.79 L311.46 417.43 L311.46 418.08 L311.47 418.73 L311.47 419.4 L311.48 420.07 L311.48 420.74 L311.48 421.43 L311.49 422.12 L311.49 422.83 L311.49 423.55 L311.49 424.28 L311.49 425.02 L311.5 425.78 L311.5 426.55 L311.5 427.35 L311.5 428.16 L311.5 429.01 L311.5 429.88 L311.5 430.79 L311.5 431.76 L311.5 432.8 L311.5 433.97 L311.5 435.6" stroke="#000" stroke-width="1.3" fill="none" stroke-linejoin="round"/>
<path d="M61.4 261.1 L62.65 261.33 L63.9 261.55 L65.15 261.78 L66.4 262.01 L67.65 262.24 L68.9 262.47 L70.15 262.7 L71.4 262.93 L72.65 263.17 L73.91 263.4 L75.16 263.64 L76.41 263.87 L77.66 264.11 L78.91 264.35 L80.16 264.59 L81.41 264.83 L82.66 265.07 L83.91 265.31 L85.16 265.55 L86.41 265.8 L87.66 266.04 L88.91 266.29 L90.16 266.53 L91.41 266.78 L92.66 267.03 L93.91 267.28 L95.16 267.53 L96.41 267.78 L97.66 268.04 L98.91 268.29 L100.17 268.54 L101.42 268.8 L102.67 269.06 L103.92 269.32 L105.17 269.58 L106.42 269.84 L107.67 270.1 L108.92 270.36 L110.17 270.63 L111.42 270.89 L112.67 271.16 L113.92 271.43 L115.17 271.7 L116.42 271.97 L117.67 272.24 L118.92 272.51 L120.17 272.79 L121.42 273.06 L122.67 273.34 L123.92 273.62 L125.18 273.9 L126.43 274.18 L127.68 274.46 L128.93 274.75 L130.18 275.03 L131.43 275.32 L132.68 275.61 L133.93 275.9 L135.18 276.19 L136.43 276.48 L137.68 276.78 L138.93 277.07 L140.18 277.37 L141.43 277.67 L142.68 277.97 L143.93 278.28 L145.18 278.58 L146.43 278.89 L147.68 279.19 L148.94 279.5 L150.19 279.81 L151.44 280.13 L152.69 280.44 L153.94 280.76 L155.19 281.08 L156.44 281.4 L157.69 281.72 L158.94 282.04 L160.19 282.37 L161.44 282.7 L162.69 283.03 L163.94 283.36 L165.19 283.69 L166.44 284.03 L167.69 284.37 L168.94 284.71 L170.19 285.05 L171.44 285.4 L172.69 285.74 L173.94 286.09 L175.2 286.45 L176.45 286.8 L177.7 287.16 L178.95 287.52 L180.2 287.88 L181.45 288.24 L182.7 288.61 L183.95 288.98 L185.2 289.35 L186.45 289.73 L187.7 290.1 L188.95 290.48 L190.2 290.87 L191.45 291.25 L192.7 291.64 L193.95 292.04 L195.2 292.43 L196.45 292.83 L197.7 293.23 L198.96 293.64 L200.21 294.04 L201.46 294.46 L202.71 294.87 L203.96 295.29 L205.21 295.71 L206.46 296.14 L207.71 296.57 L208.96 297 L210.21 297.44 L211.46 297.88 L212.71 298.32 L213.96 298.77 L215.21 299.23 L216.46 299.68 L217.71 300.15 L218.96 300.61 L220.21 301.08 L221.46 301.56 L222.71 302.04 L223.97 302.53 L225.22 303.02 L226.47 303.52 L227.72 304.02 L228.97 304.53 L230.22 305.04 L231.47 305.56 L232.72 306.08 L233.97 306.61 L235.22 307.15 L236.47 307.69 L237.72 308.24 L238.97 308.8 L240.22 309.37 L241.47 309.94 L242.72 310.52 L243.97 311.1 L245.22 311.7 L246.47 312.3 L247.72 312.91 L248.97 313.53 L250.23 314.16 L251.48 314.8 L252.73 315.45 L253.98 316.11 L255.23 316.78 L256.48 317.46 L257.73 318.15 L258.98 318.85 L260.23 319.57 L261.48 320.29 L262.73 321.04 L263.98 321.79 L265.23 322.56 L266.48 323.35 L267.73 324.15 L268.98 324.97 L270.23 325.8 L271.48 326.66 L272.73 327.53 L273.98 328.42 L275.24 329.34 L276.49 330.28 L277.74 331.24 L278.99 332.23 L280.24 333.25 L281.49 334.29 L282.74 335.37 L283.99 336.48 L285.24 337.63 L286.49 338.82 L287.74 340.05 L288.99 341.33 L290.24 342.66 L291.49 344.05 L292.74 345.5 L293.99 347.02 L295.24 348.61 L296.49 350.3 L297.74 352.08 L298.99 353.99 L300.25 356.02 L301.5 358.22 L302.75 360.61 L304 363.23 L305.25 366.17 L311.5 408.38" stroke="#ff0000" stroke-width="1.3" fill="none" stroke-dasharray="4 5.4"/>
<g fill="#fff" stroke="#a0a0ff" stroke-width="0.85"><rect x="59.15" y="258.75" width="4.3" height="4.3"/><rect x="71.25" y="261.25" width="4.3" height="4.3"/><rect x="83.35" y="264.05" width="4.3" height="4.3"/><rect x="95.45" y="266.65" width="4.3" height="4.3"/><rect x="107.55" y="269.55" width="4.3" height="4.3"/><rect x="119.65" y="272.15" width="4.3" height="4.3"/><rect x="131.75" y="275.75" width="4.3" height="4.3"/><rect x="143.85" y="278.95" width="4.3" height="4.3"/><rect x="155.95" y="282.25" width="4.3" height="4.3"/><rect x="168.05" y="285.95" width="4.3" height="4.3"/><rect x="180.15" y="290.15" width="4.3" height="4.3"/><rect x="192.25" y="294.25" width="4.3" height="4.3"/><rect x="204.35" y="298.95" width="4.3" height="4.3"/><rect x="216.45" y="304.05" width="4.3" height="4.3"/><rect x="228.55" y="309.55" width="4.3" height="4.3"/><rect x="240.65" y="315.95" width="4.3" height="4.3"/><rect x="252.75" y="322.55" width="4.3" height="4.3"/><rect x="264.85" y="331.25" width="4.3" height="4.3"/><rect x="276.95" y="342.75" width="4.3" height="4.3"/><rect x="289.05" y="358.65" width="4.3" height="4.3"/><rect x="301.15" y="383.45" width="4.3" height="4.3"/></g>
<rect x="36.5" y="243.5" width="300.1" height="210" fill="none" stroke="#404040" stroke-width="1" stroke-linejoin="round"/>
<path d="M61.4 453.5v-4M61.4 243.5v4M36.5 435.6h4M336.6 435.6h-4M86.41 453.5v-2M86.41 243.5v2M36.5 418.15h2M336.6 418.15h-2M111.42 453.5v-4M111.42 243.5v4M36.5 400.7h4M336.6 400.7h-4M136.43 453.5v-2M136.43 243.5v2M36.5 383.25h2M336.6 383.25h-2M161.44 453.5v-4M161.44 243.5v4M36.5 365.8h4M336.6 365.8h-4M186.45 453.5v-2M186.45 243.5v2M36.5 348.35h2M336.6 348.35h-2M211.46 453.5v-4M211.46 243.5v4M36.5 330.9h4M336.6 330.9h-4M236.47 453.5v-2M236.47 243.5v2M36.5 313.45h2M336.6 313.45h-2M261.48 453.5v-4M261.48 243.5v4M36.5 296h4M336.6 296h-4M286.49 453.5v-2M286.49 243.5v2M36.5 278.55h2M336.6 278.55h-2M311.5 453.5v-4M311.5 243.5v4M36.5 261.1h4M336.6 261.1h-4" stroke="#404040" stroke-width="1" fill="none"/>
<g class="tl"><text transform="translate(61.4 466) scale(0.94 1)" text-anchor="middle">0.0</text><text transform="translate(32.6 438.9) scale(0.94 1)" text-anchor="end">0.0</text><text transform="translate(111.42 466) scale(0.94 1)" text-anchor="middle">0.2</text><text transform="translate(32.6 404) scale(0.94 1)" text-anchor="end">0.2</text><text transform="translate(161.44 466) scale(0.94 1)" text-anchor="middle">0.4</text><text transform="translate(32.6 369.1) scale(0.94 1)" text-anchor="end">0.4</text><text transform="translate(211.46 466) scale(0.94 1)" text-anchor="middle">0.6</text><text transform="translate(32.6 334.2) scale(0.94 1)" text-anchor="end">0.6</text><text transform="translate(261.48 466) scale(0.94 1)" text-anchor="middle">0.8</text><text transform="translate(32.6 299.3) scale(0.94 1)" text-anchor="end">0.8</text><text transform="translate(311.5 466) scale(0.94 1)" text-anchor="middle">1.0</text><text transform="translate(32.6 264.4) scale(0.94 1)" text-anchor="end">1.0</text></g>
<path d="M54 406.15H82.1" stroke="#000" stroke-width="1.3"/>
<path d="M54 421.3H78.2" stroke="#ff0000" stroke-width="1.3" stroke-dasharray="4.4 5.4"/>
<rect x="66.25" y="434.85" width="4.3" height="4.3" fill="#fff" stroke="#a0a0ff" stroke-width="0.85"/>
<g class="lg"><text x="85.4" y="410.7">analytical</text><text x="85.4" y="426.3">numerical</text><text x="85.4" y="441.6">SRIM</text></g>
<text class="pl" x="277.1" y="267" text-anchor="middle">molybdenum</text>
<text class="al" transform="translate(12.3 347.7) rotate(-90)" text-anchor="middle">u(x)</text>
<text class="al" x="186.9" y="487" text-anchor="middle">x/R</text>
</g>
<g>
<path d="M419.97 257.5V259.4M418.07 257.5H421.87M419.97 264.2V266.1M418.07 266.1H421.87M432.34 259.6V262M430.44 259.6H434.24M432.34 266.8V269.3M430.44 269.3H434.24M444.71 261.4V264.9M442.81 261.4H446.61M444.71 269.7V272.6M442.81 272.6H446.61M457.08 263.5V267.5M455.18 263.5H458.98M457.08 272.3V275.9M455.18 275.9H458.98M469.45 266.1V270.3M467.55 266.1H471.35M469.45 275.1V279.5M467.55 279.5H471.35M481.82 269V273.6M479.92 269H483.72M481.82 278.4V283.2M479.92 283.2H483.72M494.19 271V276.6M492.29 271H496.09M494.19 281.4V286.6M492.29 286.6H496.09M506.56 273.9V279.9M504.66 273.9H508.46M506.56 284.7V290.7M504.66 290.7H508.46M518.93 277.5V283.6M517.03 277.5H520.83M518.93 288.4V295M517.03 295H520.83M531.3 280.4V287.5M529.4 280.4H533.2M531.3 292.3V299.4M529.4 299.4H533.2M543.67 284.5V291.6M541.77 284.5H545.57M543.67 296.4V303.4M541.77 303.4H545.57M556.04 288.2V296M554.14 288.2H557.94M556.04 300.8V309.3M554.14 309.3H557.94M568.41 292.4V301M566.51 292.4H570.31M568.41 305.8V314.3M566.51 314.3H570.31M580.78 295.6V306.2M578.88 295.6H582.68M580.78 311V322M578.88 322H582.68M593.15 300.3V312.2M591.25 300.3H595.05M593.15 317V329.4M591.25 329.4H595.05M605.52 307.5V320.1M603.62 307.5H607.42M605.52 324.9V337.7M603.62 337.7H607.42M617.89 312.4V328.2M615.99 312.4H619.79M617.89 333V349.3M615.99 349.3H619.79M630.26 320.1V339.3M628.36 320.1H632.16M630.26 344.1V362.3M628.36 362.3H632.16M642.63 325.3V354.8M640.73 325.3H644.53M642.63 359.6V388.5M640.73 388.5H644.53M655 322.5V384.2M653.1 322.5H656.9M655 389V451M653.1 451H656.9" stroke="#d2d2ff" stroke-width="0.9" fill="none"/>
<path d="M404.1 259.3 L407.6 259.3 L409.47 259.63 L411.33 259.96 L413.19 260.28 L415.03 260.61 L416.87 260.94 L418.69 261.27 L420.51 261.6 L422.32 261.93 L424.11 262.26 L425.9 262.59 L427.68 262.91 L429.45 263.24 L431.21 263.57 L432.97 263.91 L434.71 264.24 L436.44 264.57 L438.17 264.9 L439.89 265.23 L441.59 265.56 L443.29 265.89 L444.98 266.22 L446.66 266.56 L448.33 266.89 L450 267.22 L451.65 267.55 L453.29 267.89 L454.93 268.22 L456.56 268.55 L458.18 268.89 L459.79 269.22 L461.39 269.55 L462.98 269.89 L464.57 270.22 L466.14 270.56 L467.71 270.89 L469.27 271.23 L470.82 271.56 L472.36 271.9 L473.89 272.23 L475.42 272.57 L476.93 272.91 L478.44 273.24 L479.94 273.58 L481.43 273.92 L482.91 274.25 L484.39 274.59 L485.85 274.93 L487.31 275.27 L488.76 275.61 L490.2 275.94 L491.63 276.28 L493.06 276.62 L494.47 276.96 L495.88 277.3 L497.28 277.64 L498.68 277.98 L500.06 278.32 L501.44 278.66 L502.8 279 L504.16 279.34 L505.52 279.68 L506.86 280.02 L508.2 280.37 L509.52 280.71 L510.84 281.05 L512.16 281.39 L513.46 281.74 L514.76 282.08 L516.05 282.42 L517.33 282.77 L518.6 283.11 L519.87 283.45 L521.13 283.8 L522.38 284.14 L523.62 284.49 L524.86 284.83 L526.08 285.18 L527.3 285.52 L528.52 285.87 L529.72 286.21 L530.92 286.56 L532.11 286.91 L533.29 287.25 L534.47 287.6 L535.63 287.95 L536.79 288.3 L537.95 288.64 L539.09 288.99 L540.23 289.34 L541.36 289.69 L542.48 290.04 L543.6 290.39 L544.71 290.74 L545.81 291.09 L546.91 291.44 L547.99 291.79 L549.07 292.14 L550.15 292.49 L551.21 292.84 L552.27 293.19 L553.33 293.55 L554.37 293.9 L555.41 294.25 L556.44 294.6 L557.46 294.96 L558.48 295.31 L559.49 295.66 L560.5 296.02 L561.49 296.37 L562.48 296.73 L563.47 297.08 L564.44 297.44 L565.41 297.79 L566.37 298.15 L567.33 298.51 L568.28 298.86 L569.22 299.22 L570.16 299.58 L571.09 299.93 L572.01 300.29 L572.93 300.65 L573.84 301.01 L574.74 301.37 L575.64 301.73 L576.53 302.08 L577.41 302.44 L578.29 302.8 L579.16 303.16 L580.03 303.53 L580.88 303.89 L581.74 304.25 L582.58 304.61 L583.42 304.97 L584.25 305.33 L585.08 305.7 L585.9 306.06 L586.72 306.42 L587.52 306.79 L588.33 307.15 L589.12 307.51 L589.91 307.88 L590.7 308.24 L591.47 308.61 L592.25 308.98 L593.01 309.34 L593.77 309.71 L594.53 310.08 L595.27 310.44 L596.01 310.81 L596.75 311.18 L597.48 311.55 L598.21 311.92 L598.92 312.28 L599.64 312.65 L600.34 313.02 L601.05 313.39 L601.74 313.76 L602.43 314.14 L603.11 314.51 L603.79 314.88 L604.47 315.25 L605.13 315.62 L605.79 316 L606.45 316.37 L607.1 316.74 L607.75 317.12 L608.39 317.49 L609.02 317.87 L609.65 318.24 L610.27 318.62 L610.89 318.99 L611.5 319.37 L612.11 319.75 L612.71 320.12 L613.31 320.5 L613.9 320.88 L614.49 321.26 L615.07 321.64 L615.64 322.02 L616.21 322.4 L616.78 322.78 L617.34 323.16 L617.89 323.54 L618.44 323.92 L618.99 324.3 L619.53 324.68 L620.06 325.07 L620.59 325.45 L621.12 325.83 L621.63 326.22 L622.15 326.6 L622.66 326.99 L623.16 327.37 L623.66 327.76 L624.16 328.14 L624.65 328.53 L625.14 328.92 L625.62 329.31 L626.09 329.7 L626.57 330.08 L627.03 330.47 L627.49 330.86 L627.95 331.25 L628.41 331.64 L628.85 332.03 L629.3 332.43 L629.74 332.82 L630.17 333.21 L630.6 333.6 L631.03 334 L631.45 334.39 L631.87 334.79 L632.28 335.18 L632.69 335.58 L633.09 335.97 L633.49 336.37 L633.88 336.77 L634.27 337.17 L634.66 337.57 L635.04 337.96 L635.42 338.36 L635.79 338.76 L636.16 339.16 L636.53 339.57 L636.89 339.97 L637.25 340.37 L637.6 340.77 L637.95 341.18 L638.3 341.58 L638.64 341.98 L638.97 342.39 L639.31 342.79 L639.64 343.2 L639.96 343.61 L640.28 344.02 L640.6 344.42 L640.91 344.83 L641.22 345.24 L641.53 345.65 L641.83 346.06 L642.13 346.47 L642.42 346.88 L642.71 347.3 L643 347.71 L643.29 348.12 L643.57 348.54 L643.84 348.95 L644.11 349.37 L644.38 349.79 L644.65 350.2 L644.91 350.62 L645.17 351.04 L645.43 351.46 L645.68 351.88 L645.93 352.3 L646.17 352.72 L646.41 353.14 L646.65 353.56 L646.89 353.99 L647.12 354.41 L647.35 354.83 L647.57 355.26 L647.79 355.69 L648.01 356.11 L648.23 356.54 L648.44 356.97 L648.65 357.4 L648.85 357.83 L649.06 358.26 L649.26 358.69 L649.45 359.12 L649.65 359.55 L649.84 359.99 L650.02 360.42 L650.21 360.86 L650.39 361.29 L650.57 361.73 L650.75 362.17 L650.92 362.61 L651.09 363.05 L651.26 363.49 L651.42 363.93 L651.58 364.37 L651.74 364.81 L651.9 365.26 L652.05 365.7 L652.2 366.15 L652.35 366.59 L652.5 367.04 L652.64 367.49 L652.78 367.94 L652.92 368.39 L653.06 368.84 L653.19 369.29 L653.32 369.75 L653.45 370.2 L653.57 370.66 L653.7 371.11 L653.82 371.57 L653.94 372.03 L654.05 372.49 L654.17 372.95 L654.28 373.41 L654.39 373.87 L654.49 374.33 L654.6 374.8 L654.7 375.26 L654.8 375.73 L654.9 376.2 L655 376.66 L655.09 377.13 L655.18 377.6 L655.27 378.08 L655.36 378.55 L655.45 379.02 L655.53 379.5 L655.61 379.97 L655.69 380.45 L655.77 380.93 L655.84 381.41 L655.92 381.89 L655.99 382.37 L656.06 382.85 L656.13 383.34 L656.2 383.82 L656.26 384.31 L656.33 384.8 L656.39 385.29 L656.45 385.78 L656.51 386.27 L656.56 386.76 L656.62 387.25 L656.67 387.75 L656.72 388.24 L656.77 388.74 L656.82 389.24 L656.87 389.74 L656.91 390.24 L656.96 390.74 L657 391.24 L657.04 391.74 L657.08 392.25 L657.12 392.75 L657.16 393.26 L657.2 393.77 L657.23 394.27 L657.26 394.78 L657.3 395.29 L657.33 395.8 L657.36 396.31 L657.39 396.82 L657.41 397.33 L657.44 397.84 L657.47 398.35 L657.49 398.86 L657.51 399.36 L657.54 399.87 L657.56 400.38 L657.58 400.88 L657.6 401.39 L657.61 401.89 L657.63 402.39 L657.65 402.89 L657.66 403.38 L657.68 403.88 L657.69 404.36 L657.71 404.84 L657.72 405.32 L657.73 405.79 L657.74 406.26 L657.75 406.71 L657.76 407.16 L657.77 407.6 L657.78 408.02 L657.79 408.44 L657.79 408.84 L657.8 409.23 L657.8 409.6 L657.81 409.95 L657.82 410.29 L657.82 410.61 L657.82 410.9 L657.83 411.18 L657.83 411.43 L657.83 411.67 L657.84 411.88 L657.84 412.06 L657.84 412.23 L657.84 412.37 L657.84 412.49 L657.84 412.59 L657.84 412.67 L657.85 412.73 L657.85 412.78 L657.85 412.81 L657.85 412.84 L657.85 412.85 L657.85 412.86 L657.85 412.86 L657.85 412.86" stroke="#000" stroke-width="1.3" fill="none" stroke-linejoin="round"/>
<path d="M407.6 259.3 L408.85 259.52 L410.1 259.74 L411.35 259.96 L412.61 260.18 L413.86 260.4 L415.11 260.63 L416.36 260.85 L417.61 261.07 L418.86 261.3 L420.12 261.53 L421.37 261.75 L422.62 261.98 L423.87 262.21 L425.12 262.44 L426.37 262.67 L427.62 262.9 L428.88 263.14 L430.13 263.37 L431.38 263.61 L432.63 263.84 L433.88 264.08 L435.13 264.32 L436.38 264.56 L437.64 264.79 L438.89 265.04 L440.14 265.28 L441.39 265.52 L442.64 265.76 L443.89 266.01 L445.15 266.26 L446.4 266.5 L447.65 266.75 L448.9 267 L450.15 267.25 L451.4 267.5 L452.65 267.76 L453.91 268.01 L455.16 268.27 L456.41 268.52 L457.66 268.78 L458.91 269.04 L460.16 269.3 L461.41 269.56 L462.67 269.82 L463.92 270.09 L465.17 270.35 L466.42 270.62 L467.67 270.88 L468.92 271.15 L470.18 271.42 L471.43 271.69 L472.68 271.97 L473.93 272.24 L475.18 272.52 L476.43 272.8 L477.68 273.07 L478.94 273.35 L480.19 273.64 L481.44 273.92 L482.69 274.2 L483.94 274.49 L485.19 274.78 L486.44 275.07 L487.7 275.36 L488.95 275.65 L490.2 275.94 L491.45 276.24 L492.7 276.54 L493.95 276.84 L495.21 277.14 L496.46 277.44 L497.71 277.74 L498.96 278.05 L500.21 278.36 L501.46 278.67 L502.71 278.98 L503.97 279.29 L505.22 279.61 L506.47 279.93 L507.72 280.24 L508.97 280.57 L510.22 280.89 L511.47 281.21 L512.73 281.54 L513.98 281.87 L515.23 282.2 L516.48 282.54 L517.73 282.87 L518.98 283.21 L520.24 283.55 L521.49 283.9 L522.74 284.24 L523.99 284.59 L525.24 284.94 L526.49 285.29 L527.74 285.65 L529 286.01 L530.25 286.37 L531.5 286.73 L532.75 287.1 L534 287.46 L535.25 287.84 L536.5 288.21 L537.76 288.59 L539.01 288.97 L540.26 289.35 L541.51 289.74 L542.76 290.13 L544.01 290.52 L545.27 290.91 L546.52 291.31 L547.77 291.72 L549.02 292.12 L550.27 292.53 L551.52 292.94 L552.77 293.36 L554.03 293.78 L555.28 294.21 L556.53 294.63 L557.78 295.07 L559.03 295.5 L560.28 295.94 L561.53 296.39 L562.79 296.84 L564.04 297.29 L565.29 297.75 L566.54 298.21 L567.79 298.68 L569.04 299.15 L570.3 299.63 L571.55 300.11 L572.8 300.6 L574.05 301.09 L575.3 301.59 L576.55 302.09 L577.8 302.6 L579.06 303.12 L580.31 303.64 L581.56 304.17 L582.81 304.71 L584.06 305.25 L585.31 305.8 L586.56 306.35 L587.82 306.92 L589.07 307.49 L590.32 308.07 L591.57 308.66 L592.82 309.25 L594.07 309.86 L595.33 310.47 L596.58 311.09 L597.83 311.72 L599.08 312.36 L600.33 313.02 L601.58 313.68 L602.83 314.35 L604.09 315.04 L605.34 315.74 L606.59 316.45 L607.84 317.17 L609.09 317.91 L610.34 318.66 L611.59 319.43 L612.85 320.21 L614.1 321.01 L615.35 321.82 L616.6 322.66 L617.85 323.51 L619.1 324.38 L620.36 325.28 L621.61 326.2 L622.86 327.14 L624.11 328.1 L625.36 329.1 L626.61 330.12 L627.86 331.18 L629.12 332.27 L630.37 333.39 L631.62 334.55 L632.87 335.76 L634.12 337.01 L635.37 338.31 L636.62 339.67 L637.88 341.09 L639.13 342.58 L640.38 344.14 L641.63 345.79 L642.88 347.54 L644.13 349.4 L645.38 351.39 L646.64 353.54 L647.89 355.87 L657.9 398.01" stroke="#ff0000" stroke-width="1.3" fill="none" stroke-dasharray="4 5.4"/>
<g fill="#fff" stroke="#a0a0ff" stroke-width="0.85"><rect x="405.45" y="257.25" width="4.3" height="4.3"/><rect x="417.82" y="259.65" width="4.3" height="4.3"/><rect x="430.19" y="262.25" width="4.3" height="4.3"/><rect x="442.56" y="265.15" width="4.3" height="4.3"/><rect x="454.93" y="267.75" width="4.3" height="4.3"/><rect x="467.3" y="270.55" width="4.3" height="4.3"/><rect x="479.67" y="273.85" width="4.3" height="4.3"/><rect x="492.04" y="276.85" width="4.3" height="4.3"/><rect x="504.41" y="280.15" width="4.3" height="4.3"/><rect x="516.78" y="283.85" width="4.3" height="4.3"/><rect x="529.15" y="287.75" width="4.3" height="4.3"/><rect x="541.52" y="291.85" width="4.3" height="4.3"/><rect x="553.89" y="296.25" width="4.3" height="4.3"/><rect x="566.26" y="301.25" width="4.3" height="4.3"/><rect x="578.63" y="306.45" width="4.3" height="4.3"/><rect x="591" y="312.45" width="4.3" height="4.3"/><rect x="603.37" y="320.35" width="4.3" height="4.3"/><rect x="615.74" y="328.45" width="4.3" height="4.3"/><rect x="628.11" y="339.55" width="4.3" height="4.3"/><rect x="640.48" y="355.05" width="4.3" height="4.3"/><rect x="652.85" y="384.45" width="4.3" height="4.3"/></g>
<rect x="382.5" y="242" width="300.5" height="209.5" fill="none" stroke="#404040" stroke-width="1" stroke-linejoin="round"/>
<path d="M407.6 451.5v-4M407.6 242v4M382.5 434h4M683 434h-4M432.63 451.5v-2M432.63 242v2M382.5 416.53h2M683 416.53h-2M457.66 451.5v-4M457.66 242v4M382.5 399.06h4M683 399.06h-4M482.69 451.5v-2M482.69 242v2M382.5 381.59h2M683 381.59h-2M507.72 451.5v-4M507.72 242v4M382.5 364.12h4M683 364.12h-4M532.75 451.5v-2M532.75 242v2M382.5 346.65h2M683 346.65h-2M557.78 451.5v-4M557.78 242v4M382.5 329.18h4M683 329.18h-4M582.81 451.5v-2M582.81 242v2M382.5 311.71h2M683 311.71h-2M607.84 451.5v-4M607.84 242v4M382.5 294.24h4M683 294.24h-4M632.87 451.5v-2M632.87 242v2M382.5 276.77h2M683 276.77h-2M657.9 451.5v-4M657.9 242v4M382.5 259.3h4M683 259.3h-4" stroke="#404040" stroke-width="1" fill="none"/>
<g class="tl"><text transform="translate(407.6 464.3) scale(0.94 1)" text-anchor="middle">0.0</text><text transform="translate(378.6 437.3) scale(0.94 1)" text-anchor="end">0.0</text><text transform="translate(457.66 464.3) scale(0.94 1)" text-anchor="middle">0.2</text><text transform="translate(378.6 402.36) scale(0.94 1)" text-anchor="end">0.2</text><text transform="translate(507.72 464.3) scale(0.94 1)" text-anchor="middle">0.4</text><text transform="translate(378.6 367.42) scale(0.94 1)" text-anchor="end">0.4</text><text transform="translate(557.78 464.3) scale(0.94 1)" text-anchor="middle">0.6</text><text transform="translate(378.6 332.48) scale(0.94 1)" text-anchor="end">0.6</text><text transform="translate(607.84 464.3) scale(0.94 1)" text-anchor="middle">0.8</text><text transform="translate(378.6 297.54) scale(0.94 1)" text-anchor="end">0.8</text><text transform="translate(657.9 464.3) scale(0.94 1)" text-anchor="middle">1.0</text><text transform="translate(378.6 262.6) scale(0.94 1)" text-anchor="end">1.0</text></g>
<path d="M399 401.85H427.1" stroke="#000" stroke-width="1.3"/>
<path d="M399 417.1H423.2" stroke="#ff0000" stroke-width="1.3" stroke-dasharray="4.4 5.4"/>
<rect x="411.25" y="430.55" width="4.3" height="4.3" fill="#fff" stroke="#a0a0ff" stroke-width="0.85"/>
<g class="lg"><text x="430.4" y="406.4">analytical</text><text x="430.4" y="422.1">numerical</text><text x="430.4" y="437.3">SRIM</text></g>
<text class="pl" x="639.9" y="270" text-anchor="middle">bone</text>
<text class="al" x="533" y="485" text-anchor="middle">x/R</text>
</g>
</svg>
</body></html>
